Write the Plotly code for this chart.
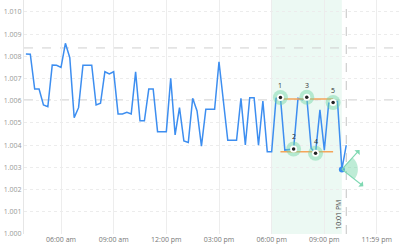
import math
import datetime as dt
import plotly.graph_objects as go

# ---- data ----
start_time = "2024-01-01 04:00"
interval_min = 15
values = [
    1.00811, 1.00810, 1.00653, 1.00653, 1.00581, 1.00573, 1.00761, 1.00760, 1.00750, 1.00859,
    1.00794, 1.00524, 1.00569, 1.00760, 1.00760, 1.00760, 1.00581, 1.00589, 1.00731, 1.00721,
    1.00731, 1.00541, 1.00541, 1.00548, 1.00541, 1.00730, 1.00510, 1.00510, 1.00653, 1.00653,
    1.00461, 1.00461, 1.00461, 1.00701, 1.00446, 1.00569, 1.00419, 1.00412, 1.00611, 1.00554,
    1.00396, 1.00562, 1.00562, 1.00562, 1.00776, 1.00600, 1.00422, 1.00422, 1.00422, 1.00611,
    1.00401, 1.00614, 1.00614, 1.00400, 1.00599, 1.00370, 1.00370, 1.00611, 1.00615, 1.00378,
    1.00381, 1.00383, 1.00611, 1.00605, 1.00616, 1.00386, 1.00364, 1.00559, 1.00378, 1.00589,
    1.00592, 1.00597, 1.00291, 1.00400,
]
pattern_idx = [58, 61, 64, 66, 70]
pattern_labels = ["1", "2", "3", "4", "5"]
upper_level = 1.00608
lower_level = 1.00371
ref_levels = [1.00838, 1.00604]
highlight_start = "2024-01-01 18:00"
highlight_end = "2024-01-01 22:00"
now_time = "2024-01-01 22:15"
now_label = "10:01 PM"
tick_vals = ["2024-01-01 06:00", "2024-01-01 09:00", "2024-01-01 12:00", "2024-01-01 15:00",
             "2024-01-01 18:00", "2024-01-01 21:00", "2024-01-01 23:59"]
tick_text = ["06:00 am", "09:00 am", "12:00 pm", "03:00 pm", "06:00 pm", "09:00 pm", "11:59 pm"]
y_ticks = [1.000 + 0.001 * i for i in range(11)]

t0 = dt.datetime.fromisoformat(start_time)
times = [t0 + dt.timedelta(minutes=interval_min * i) for i in range(len(values))]

BLUE = "#3d8ef0"
GREEN = "rgba(110,212,165,0.45)"
GREEN_LINE = "#7fd8b2"
ORANGE = "#f5a55a"

fig = go.Figure()

# main line
fig.add_trace(go.Scatter(x=times, y=values, mode="lines",
                         line=dict(color=BLUE, width=1.5), hoverinfo="skip"))

# orange pattern lines
p_times = [times[i] for i in pattern_idx]
fig.add_trace(go.Scatter(x=[p_times[0], p_times[-1]], y=[upper_level, upper_level], mode="lines",
                         line=dict(color=ORANGE, width=1.5)))
fig.add_trace(go.Scatter(x=[p_times[0], p_times[-1]], y=[lower_level, lower_level], mode="lines",
                         line=dict(color=ORANGE, width=1.5)))

# pattern markers
p_vals = [values[i] for i in pattern_idx]
fig.add_trace(go.Scatter(x=p_times, y=p_vals, mode="markers",
                         marker=dict(size=15, color=GREEN, line=dict(width=0))))
fig.add_trace(go.Scatter(x=p_times, y=p_vals, mode="markers",
                         marker=dict(size=7, color="white", line=dict(width=0))))
fig.add_trace(go.Scatter(x=p_times, y=p_vals, mode="markers",
                         marker=dict(size=3.5, color="#222", line=dict(width=0))))

# last highlighted point
last_i = len(values) - 2
fig.add_trace(go.Scatter(x=[times[last_i]], y=[values[last_i]], mode="markers",
                         marker=dict(size=6, color=BLUE)))

# wedge shape (pixel sized, anchored at last point)
a1, a2, r = -38, 48, 16
pts = ["M0,0"]
for k in range(13):
    a = math.radians(a1 + (a2 - a1) * k / 12)
    pts.append(f"L{r*math.cos(a):.2f},{r*math.sin(a):.2f}")
pts.append("Z")
shapes = [
    dict(type="rect", xref="x", yref="paper", x0=highlight_start, x1=highlight_end, y0=0, y1=1,
         fillcolor="rgba(160,225,195,0.2)", line=dict(width=0), layer="below"),
    dict(type="line", xref="x", yref="paper", x0=now_time, x1=now_time, y0=0, y1=1,
         line=dict(color="#c4c4c4", width=1, dash="dash")),
    dict(type="path", xsizemode="pixel", ysizemode="pixel", xref="x", yref="y",
         xanchor=times[last_i], yanchor=values[last_i], path=" ".join(pts),
         fillcolor=GREEN, line=dict(width=0)),
]
for lv in ref_levels:
    shapes.append(dict(type="line", xref="paper", yref="y", x0=0, x1=1, y0=lv, y1=lv,
                       line=dict(color="#cfcfcf", width=1, dash="dash"), layer="below"))

annotations = []
for t, v, lab in zip(p_times, p_vals, pattern_labels):
    annotations.append(dict(x=t, y=v, text=lab, showarrow=False, yshift=12,
                            font=dict(size=7, color="#333")))
for ax, ay in [(19, -21), (23, 18)]:
    annotations.append(dict(x=times[last_i], y=values[last_i], text="", showarrow=True,
                            ax=ax, ay=ay, arrowside="start", arrowhead=2, arrowsize=1,
                            arrowwidth=1.2, arrowcolor=GREEN_LINE))
annotations.append(dict(x=now_time, y=0, yref="paper", text=now_label, textangle=-90,
                        showarrow=False, xanchor="right", yanchor="bottom", xshift=-2, yshift=2,
                        font=dict(size=7, color="#444")))

fig.update_layout(
    width=400, height=252, margin=dict(l=24, r=0, t=0, b=18),
    paper_bgcolor="white", plot_bgcolor="white", showlegend=False,
    font=dict(family="Open Sans", size=7, color="#999"),
    shapes=shapes, annotations=annotations,
    xaxis=dict(range=["2024-01-01 03:53:30", "2024-01-02 01:18:40"], tickvals=tick_vals,
               ticktext=tick_text, showgrid=True, gridcolor="#ededed", gridwidth=1,
               zeroline=False, showline=False, ticks="", tickfont=dict(size=7, color="#777")),
    yaxis=dict(range=[1.000, 1.01054], tickvals=y_ticks, tickformat=".3f", showgrid=True,
               gridcolor="#ececec", griddash="dot", zeroline=False, showline=True,
               linecolor="#e6e6e6", ticks="", tickfont=dict(size=7, color="#999")),
)

fig.write_html("out.html")
